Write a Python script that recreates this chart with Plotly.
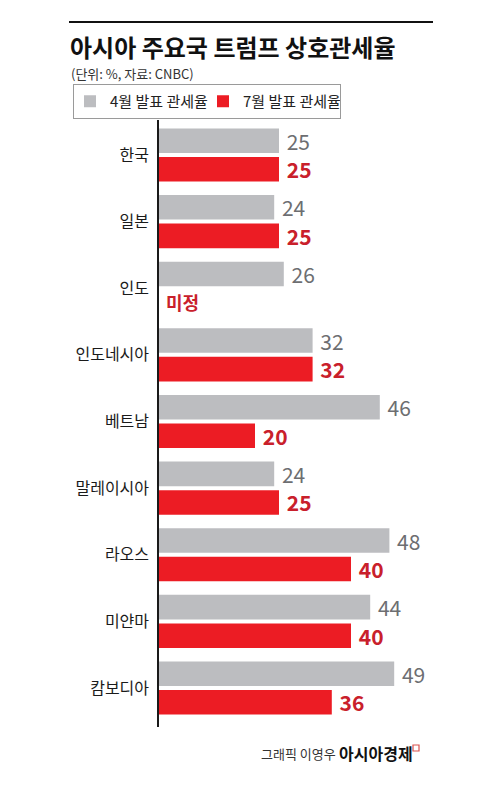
import plotly.graph_objects as go

countries = ["한국", "일본", "인도", "인도네시아", "베트남", "말레이시아", "라오스", "미얀마", "캄보디아"]
april_rates = [25, 24, 26, 32, 46, 24, 48, 44, 49]
july_rates = [25, 25, None, 32, 20, 25, 40, 40, 36]
july_labels = ["25", "25", "미정", "32", "20", "25", "40", "40", "36"]
series_names = ["4월 발표 관세율", "7월 발표 관세율"]

GRAY = "#bcbdc0"
RED = "#ec1c24"
GRAY_TXT = "#6d6e71"
RED_TXT = "#c9202b"
FONT = "Noto Sans CJK KR"

fig = go.Figure()
fig.add_trace(go.Bar(
    y=countries, x=april_rates, orientation="h", name=series_names[0],
    marker=dict(color=GRAY, line=dict(width=0)),
    text=[f" {v}" for v in april_rates], textposition="outside",
    textfont=dict(family=FONT, size=21, color=GRAY_TXT),
    constraintext="none", cliponaxis=False,
))
fig.add_trace(go.Bar(
    y=countries, x=july_rates, orientation="h", name=series_names[1],
    marker=dict(color=RED, line=dict(width=0)),
    text=[f" {l}" if v is not None else "" for v, l in zip(july_rates, july_labels)],
    textposition="outside",
    textfont=dict(family=FONT, size=21, color=RED_TXT, weight="bold"),
    constraintext="none", cliponaxis=False,
))

# "미정" label for missing value
for c, v, l in zip(countries, july_rates, july_labels):
    if v is None:
        fig.add_annotation(x=0, y=c, xref="x", yref="y", text=l, showarrow=False,
                           xanchor="left", xshift=5, yshift=-14,
                           font=dict(family=FONT, size=18, color=RED_TXT, weight="bold"))

fig.update_layout(
    width=500, height=785,
    margin=dict(l=159, r=0, t=120, b=58),
    paper_bgcolor="white", plot_bgcolor="white",
    barmode="group", bargap=0.144, bargroupgap=0.14,
    font=dict(family=FONT),
    showlegend=True,
    legend=dict(
        orientation="h", xref="container", yref="container",
        x=73/500, y=1-84/785, xanchor="left", yanchor="top",
        bordercolor="#9a9a9a", borderwidth=1,
        font=dict(family=FONT, size=15, color="#222"),
        itemsizing="constant", traceorder="normal",
        entrywidth=92, indentation=-4,
    ),
    xaxis=dict(range=[0, 341/4.8], showgrid=False, zeroline=False,
               showticklabels=False, showline=False, fixedrange=True),
    yaxis=dict(type="category", range=[8.585, -0.525], showgrid=False,
               showline=True, linecolor="#1a1a1a", linewidth=1.5,
               ticks="", ticklabelstandoff=5,
               tickfont=dict(family=FONT, size=16, color="#1a1a1a")),
)

# top rule
fig.add_shape(type="line", xref="paper", yref="paper",
              x0=(69-159)/341, x1=(433-159)/341, y0=1+(120-22)/607, y1=1+(120-22)/607,
              line=dict(color="#111", width=2))

# title
fig.add_annotation(xref="paper", yref="paper", x=(68-159)/341, y=1+(120-46)/607,
                   xanchor="left", yanchor="middle", showarrow=False,
                   text="<b>아시아 주요국 트럼프 상호관세율</b>",
                   font=dict(family=FONT, size=24, color="#111"))
fig.add_annotation(xref="paper", yref="paper", x=(69-159)/341, y=1+(120-73)/607,
                   xanchor="left", yanchor="middle", showarrow=False,
                   text="(단위: %, 자료: CNBC)",
                   font=dict(family=FONT, size=13, color="#333"))

# footer
fig.add_annotation(xref="paper", yref="paper", x=(259-159)/341, y=-(753-727)/607,
                   xanchor="left", yanchor="middle", showarrow=False,
                   text="그래픽 이영우",
                   font=dict(family=FONT, size=13, color="#333"))
fig.add_annotation(xref="paper", yref="paper", x=(337-159)/341, y=-(753-727)/607,
                   xanchor="left", yanchor="middle", showarrow=False,
                   text="<b>아시아경제</b>",
                   font=dict(family=FONT, size=16, color="#111"))
fig.add_shape(type="rect", xref="paper", yref="paper",
              x0=(413-159)/341, x1=(419-159)/341, y0=-(751-727)/607, y1=-(745-727)/607,
              line=dict(color="#d9534f", width=1.2))

fig.write_html("out.html")
